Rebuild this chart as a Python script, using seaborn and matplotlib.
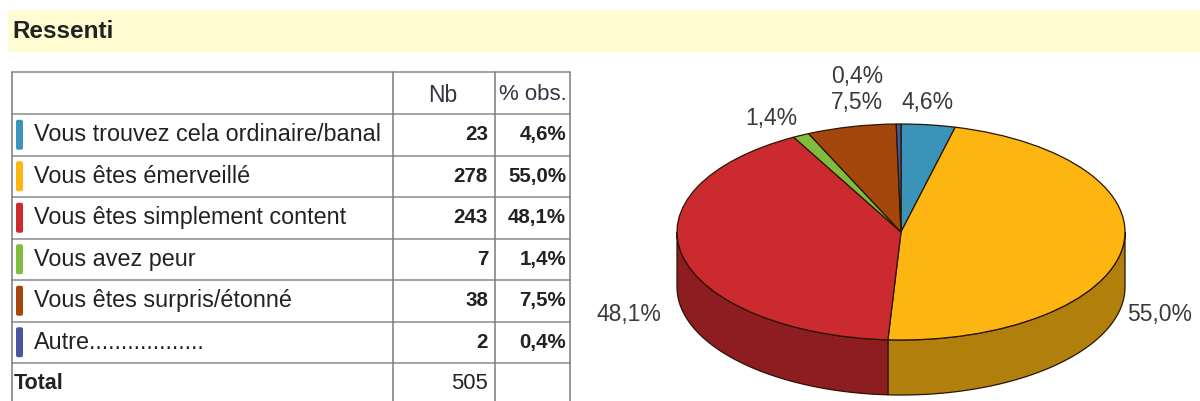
import numpy as np
import matplotlib
matplotlib.use("Agg")
import matplotlib.pyplot as plt
import matplotlib.patches as mpatches
import matplotlib.transforms as mtransforms
import seaborn as sns

# DONNEES
titre = "Ressenti"
categories = ["Vous trouvez cela ordinaire/banal", "Vous êtes émerveillé",
              "Vous êtes simplement content", "Vous avez peur",
              "Vous êtes surpris/étonné", "Autre.................."]
nb = [23, 278, 243, 7, 38, 2]
pct_obs = ["4,6%", "55,0%", "48,1%", "1,4%", "7,5%", "0,4%"]
total = 505
couleurs = ["#3A93B8", "#FDB511", "#CB2A2F", "#80BC3E", "#A3470C", "#46579B"]

sns.set_theme(style="white")
plt.rcParams['font.family'] = ['Liberation Sans', 'DejaVu Sans']
palette = sns.color_palette(couleurs)

fig = plt.figure(figsize=(12, 4.01), dpi=100)

# AXE DU TABLEAU (coordonnees en pixels, y vers le bas)
ax = fig.add_axes([0, 0, 1, 1])
ax.set_xlim(0, 1200)
ax.set_ylim(401, 0)
ax.axis('off')

# bandeau titre
ax.add_patch(mpatches.Rectangle((8, 10), 1192, 42, facecolor="#FFFCD2", edgecolor="none"))
ax.text(12, 32, titre, fontsize=17.5, fontweight='bold', color="#222222", va='center', ha='left')

# grille du tableau
x0, x1, x2, x3 = 12, 393, 495, 570
y_top, h_head, h_row = 72, 42, 41.5
lignes_y = [y_top, y_top + h_head] + [y_top + h_head + h_row * (i + 1) for i in range(len(nb) + 1)]
y_bas = lignes_y[-1]
for y in lignes_y:
    ax.plot([x0, x3], [y, y], color="#8a8a8a", lw=1.1)
for x in [x0, x1, x2, x3]:
    ax.plot([x, x], [y_top, y_bas], color="#7a7a7a", lw=1.1)

fs_lab, fs_num = 16.8, 14.8
ax.text((x1 + x2) / 2 - 1, y_top + h_head / 2 + 2, "Nb", fontsize=16.5, color="#333344", ha='center', va='center')
ax.text((x2 + x3) / 2, y_top + h_head / 2 + 2, "% obs.", fontsize=16, color="#333344", ha='center', va='center')

for i, (cat, n, p) in enumerate(zip(categories, nb, pct_obs)):
    yc = y_top + h_head + h_row * (i + 0.5)
    ax.add_patch(mpatches.FancyBboxPatch((16, yc - 15), 7, 30, boxstyle="round,pad=0,rounding_size=2",
                                         facecolor=palette[i], edgecolor="none"))
    ax.text(34, yc, cat, fontsize=fs_lab, color="#222222", ha='left', va='center')
    ax.text(x2 - 7, yc, str(n), fontsize=fs_num, fontweight='bold', color="#222222", ha='right', va='center')
    ax.text(x3 - 4, yc, p, fontsize=fs_num, fontweight='bold', color="#222222", ha='right', va='center')

yc = y_top + h_head + h_row * (len(nb) + 0.5)
ax.text(14, yc, "Total", fontsize=15.5, fontweight='bold', color="#222222", ha='left', va='center')
ax.text(x2 - 7, yc, str(total), fontsize=fs_num + 1, color="#222222", ha='right', va='center')

# CAMEMBERT 3D (coordonnees en pixels, y vers le haut)
axp = fig.add_axes([0, 0, 1, 1])
axp.patch.set_alpha(0)
cx, cy = 901, 401 - 232
rx, ry, prof = 224, 108, 55
ecrase = mtransforms.Affine2D().translate(-cx, -cy).scale(1, ry / rx).translate(cx, cy)

wedges, _ = axp.pie(nb, colors=palette, startangle=90, counterclock=False,
                    center=(cx, cy), radius=rx,
                    wedgeprops=dict(edgecolor="#2b1400", linewidth=0.9))
for w in wedges:
    w.set_transform(ecrase + axp.transData)
    w.set_zorder(3)

# faces laterales (moitie avant)
for w, c in zip(wedges, palette):
    sombre = tuple(v * 0.7 for v in c)
    for k in (-360, 0, 360):
        a = max(w.theta1 + k, -180)
        b = min(w.theta2 + k, 0)
        if b <= a:
            continue
        t = np.radians(np.linspace(a, b, 80))
        xs = cx + rx * np.cos(t)
        ys = cy + ry * np.sin(t)
        poly = np.column_stack([np.r_[xs, xs[::-1]], np.r_[ys, ys[::-1] - prof]])
        axp.add_patch(mpatches.Polygon(poly, closed=True, facecolor=sombre,
                                       edgecolor="#2b1400", linewidth=0.9, zorder=2))

axp.set_xlim(0, 1200)
axp.set_ylim(0, 401)
axp.set_aspect('auto')
axp.axis('off')

# etiquettes des pourcentages
pos_etiq = [(928, 103, 'center'), (1127, 314, 'left'), (661, 314, 'right'),
            (771, 118, 'center'), (857, 103, 'center'), (857, 77, 'center')]
for (x, y, ha), p in zip(pos_etiq, pct_obs):
    axp.text(x, 401 - y, p, fontsize=16.5, color="#3a3a3a", ha=ha, va='center')

fig.savefig("out.png", dpi=100)
